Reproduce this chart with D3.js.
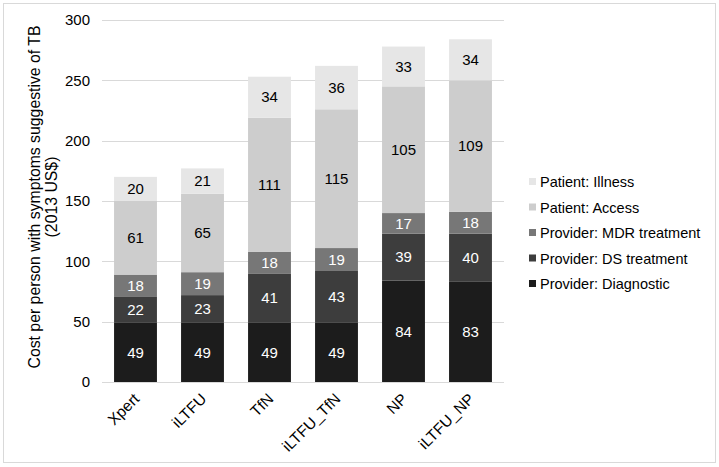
<!DOCTYPE html>
<html>
<head>
<meta charset="utf-8">
<script src="https://cdn.jsdelivr.net/npm/d3@7"></script>
<style>
    body { margin: 0; background: #fff; }
    svg { font-family: "Liberation Sans", Arial, sans-serif; }
</style>
</head>
<body>
<div id="chart"></div>
<script>
// categories along the x axis
var categories = ["Xpert", "iLTFU", "TfN", "iLTFU_TfN", "NP", "iLTFU_NP"];

// cost components, bottom to top
var seriesNames = ["Provider: Diagnostic", "Provider: DS treatment", "Provider: MDR treatment", "Patient: Access", "Patient: Illness"];
var diagnostic = [49, 49, 49, 49, 84, 83];
var dsTreatment = [22, 23, 41, 43, 39, 40];
var mdrTreatment = [18, 19, 18, 19, 17, 18];
var access = [61, 65, 111, 115, 105, 109];
var illness = [20, 21, 34, 36, 33, 34];

var yTicks = [0, 50, 100, 150, 200, 250, 300];

var colors = ["#1c1c1c", "#3d3d3d", "#777777", "#cdcdcd", "#e6e6e6"];
var labelColors = ["#ffffff", "#ffffff", "#ffffff", "#000000", "#000000"];

var W = 719, H = 467;
var margin = { top: 20, right: 215, bottom: 85, left: 102 },
    width = W - margin.left - margin.right,
    height = H - margin.top - margin.bottom;

var svg = d3.select("#chart")
    .append("svg")
    .attr("width", W)
    .attr("height", H);

// outer frame
svg.append("rect")
    .attr("x", 3.5).attr("y", 3.5)
    .attr("width", 712).attr("height", 459)
    .attr("fill", "none")
    .attr("stroke", "#d9d9d9");

var g = svg.append("g")
    .attr("transform", "translate(" + margin.left + "," + margin.top + ")");

var table = categories.map(function (c, i) {
    return {
        cat: c,
        s0: diagnostic[i], s1: dsTreatment[i], s2: mdrTreatment[i], s3: access[i], s4: illness[i]
    };
});
var keys = ["s0", "s1", "s2", "s3", "s4"];
var stacked = d3.stack().keys(keys)(table);

var x = d3.scaleBand()
    .domain(categories)
    .range([0, width])
    .paddingInner(0.36)
    .paddingOuter(0.18);

var y = d3.scaleLinear()
    .domain([0, 300])
    .range([height, 0]);

// gridlines
g.append("g")
    .selectAll("line")
    .data(yTicks)
    .enter().append("line")
    .attr("x1", 0).attr("x2", width)
    .attr("y1", function (d) { return Math.round(y(d)) + 0.5; })
    .attr("y2", function (d) { return Math.round(y(d)) + 0.5; })
    .attr("stroke", "#d9d9d9")
    .attr("stroke-width", 1);

// y axis labels
var yAxis = g.append("g")
    .call(d3.axisLeft(y).tickValues(yTicks).tickSize(0).tickPadding(12));
yAxis.select(".domain").remove();
yAxis.selectAll("text")
    .attr("font-size", 15)
    .attr("font-family", "Liberation Sans, Arial, sans-serif")
    .attr("fill", "#000");

// bars
var layers = g.selectAll(".layer")
    .data(stacked)
    .enter().append("g")
    .attr("class", "layer")
    .attr("fill", function (d, i) { return colors[i]; });

layers.selectAll("rect")
    .data(function (d) { return d; })
    .enter().append("rect")
    .attr("x", function (d) { return x(d.data.cat); })
    .attr("width", x.bandwidth())
    .attr("y", function (d) { return y(d[1]); })
    .attr("height", function (d) { return y(d[0]) - y(d[1]); });

// value labels
layers.each(function (layer, i) {
    d3.select(this).selectAll("text")
        .data(layer)
        .enter().append("text")
        .attr("x", function (d) { return x(d.data.cat) + x.bandwidth() / 2; })
        .attr("y", function (d) { return (y(d[0]) + y(d[1])) / 2; })
        .attr("dy", "0.35em")
        .attr("text-anchor", "middle")
        .attr("font-size", 15)
        .attr("fill", labelColors[i])
        .text(function (d) { return d[1] - d[0]; });
});

// x axis labels, rotated
var xAxis = g.append("g")
    .attr("transform", "translate(0," + height + ")")
    .call(d3.axisBottom(x).tickSize(0).tickPadding(0));
xAxis.select(".domain").remove();
xAxis.selectAll("text")
    .attr("font-size", 15.5)
    .attr("font-family", "Liberation Sans, Arial, sans-serif")
    .attr("fill", "#000")
    .attr("text-anchor", "end")
    .attr("transform", "translate(1,14) rotate(-45)")
    .attr("dy", "0.35em")
    .attr("y", 0);

// y axis title
var title = svg.append("text")
    .attr("transform", "translate(40,197) rotate(-90)")
    .attr("text-anchor", "middle")
    .attr("font-size", 15.8)
    .attr("fill", "#000");
title.append("tspan").attr("x", 0).attr("dy", 0).text("Cost per person with symptoms suggestive of TB");
title.append("tspan").attr("x", 0).attr("dy", 17).text("(2013 US$)");

// legend, top entry is the last series
var legend = svg.append("g")
    .attr("transform", "translate(529,182)");
var legendRows = legend.selectAll("g")
    .data(seriesNames.map(function (n, i) { return { name: n, i: i }; }).reverse())
    .enter().append("g")
    .attr("transform", function (d, j) { return "translate(0," + (j * 25.5) + ")"; });
legendRows.append("rect")
    .attr("x", 0).attr("y", -4)
    .attr("width", 7).attr("height", 7)
    .attr("fill", function (d) { return colors[d.i]; });
legendRows.append("text")
    .attr("x", 11)
    .attr("dy", "0.35em")
    .attr("font-size", 14.5)
    .attr("fill", "#000")
    .text(function (d) { return d.name; });
</script>
</body>
</html>
